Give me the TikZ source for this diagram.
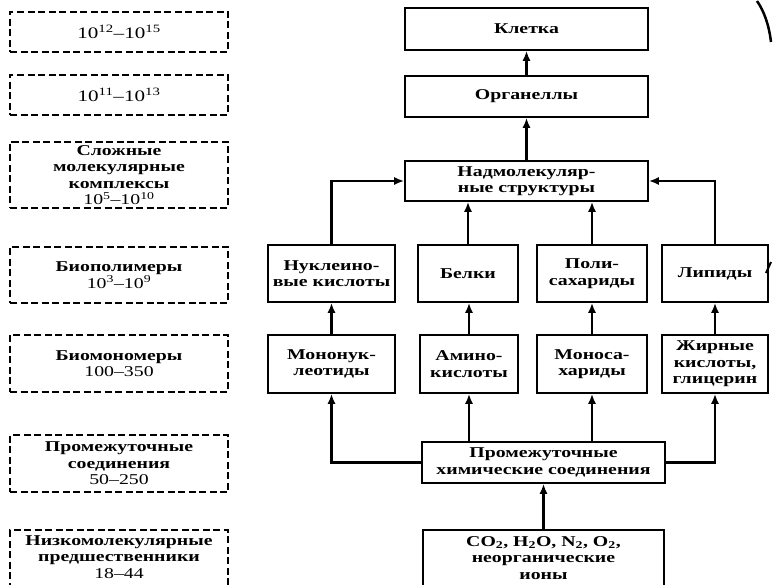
\documentclass[tikz,border=0pt]{standalone}
\usepackage{fontspec}
\setmainfont{Liberation Serif}[FakeStretch=1.32]
\usetikzlibrary{arrows.meta}
\begin{document}
\begin{tikzpicture}[x=1pt,y=-1pt,
  txt/.style={font=\fontsize{15}{16.5}\selectfont\bfseries, align=center, inner sep=0pt},
  solidbox/.style={txt, draw, line width=1.6pt, minimum width=#1},
  dbox/.style={txt, draw, line width=1.6pt, dash pattern=on 7pt off 3.5pt, minimum width=218pt},
  dline/.style={line width=1.6pt, dash pattern=on 7pt off 3.5pt},
  arr/.style={line width=2.6pt, -{Latex[length=10pt,width=8pt]}}
]
\useasboundingbox (0,0) rectangle (777,585);
% left dashed column
\node[dbox, minimum height=40pt] (l1) at (119,32) {\mdseries\fontsize{16}{17}\selectfont 10\textsuperscript{12}--10\textsuperscript{15}};
\node[dbox, minimum height=40pt] (l2) at (119,95) {\mdseries\fontsize{16}{17}\selectfont 10\textsuperscript{11}--10\textsuperscript{13}};
\node[dbox, minimum height=66pt] (l3) at (119,175) {Сложные\\молекулярные\\комплексы\\{\mdseries 10\textsuperscript{5}--10\textsuperscript{10}}};
\node[dbox, minimum height=56pt] (l4) at (119,275) {Биополимеры\\{\mdseries 10\textsuperscript{3}--10\textsuperscript{9}}};
\node[dbox, minimum height=57pt] (l5) at (119,363.5) {Биомономеры\\{\mdseries 100--350}};
\node[dbox, minimum height=57pt] (l6) at (119,463.5) {Промежуточные\\соединения\\{\mdseries 50--250}};
\node[txt] (l7) at (119,557) {Низкомолекулярные\\предшественники\\{\mdseries 18--44}};
\draw[dline] (10,600) -- (10,530) -- (228,530) -- (228,600);
% right column
\node[solidbox=243pt, minimum height=42pt] (kl) at (526.5,29) {Клетка};
\node[solidbox=243pt, minimum height=41pt] (org) at (526.5,96.5) {Органеллы};
\node[solidbox=243pt, minimum height=40pt] (nad) at (526.5,181) {Надмолекуляр-\\ные структуры};
\node[solidbox=127pt, minimum height=57pt] (nuk) at (331.5,273.5) {Нуклеино-\\вые кислоты};
\node[solidbox=100pt, minimum height=57pt] (bel) at (468,273.5) {Белки};
\node[solidbox=110pt, minimum height=57pt] (pol) at (592,273.5) {Поли-\\сахариды};
\node[solidbox=106pt, minimum height=57pt] (lip) at (715,273.5) {Липиды};
\node[solidbox=127pt, minimum height=58pt] (mnu) at (331.5,364) {Мононук-\\леотиды};
\node[solidbox=98pt, minimum height=58pt] (ami) at (469,364) {Амино-\\кислоты};
\node[solidbox=110pt, minimum height=58pt] (mns) at (592,364) {Моноса-\\хариды};
\node[solidbox=106pt, minimum height=58pt] (zhi) at (715,364) {Жирные\\кислоты,\\глицерин};
\node[solidbox=243pt, minimum height=41pt] (pro) at (543.5,462.5) {Промежуточные\\химические соединения};
\node[txt] (co) at (543.5,558) {CO\textsubscript{2}, H\textsubscript{2}O, N\textsubscript{2}, O\textsubscript{2},\\неорганические\\ионы};
\draw[line width=1.6pt] (423,600) -- (423,530) -- (664,530) -- (664,600);
\coordinate (cotop) at (543.5,530);
% connectors
\draw[arr] (org.north) -- (kl.south);
\draw[arr] (nad.north) -- (org.south);
\draw[arr] (nuk.north) |- (nad.west);
\draw[arr] (lip.north) |- (nad.east);
\draw[arr] (bel.north) -- (bel.north |- nad.south);
\draw[arr] (pol.north) -- (pol.north |- nad.south);
\draw[arr] (mnu.north) -- (nuk.south);
\draw[arr] (ami.north) -- (ami.north |- bel.south);
\draw[arr] (mns.north) -- (pol.south);
\draw[arr] (zhi.north) -- (lip.south);
\draw[arr] (pro.west) -| (mnu.south);
\draw[arr] (pro.east) -| (zhi.south);
\draw[arr] (ami.south |- pro.north) -- (ami.south);
\draw[arr] (mns.south |- pro.north) -- (mns.south);
\draw[arr] (cotop) -- (pro.south);
% fragments at right edge
\draw[line width=2.5pt] (757,1) .. controls (764,11) and (769,25) .. (771,42);
\draw[line width=2pt] (766,273) -- (771,262);
\end{tikzpicture}
\end{document}
